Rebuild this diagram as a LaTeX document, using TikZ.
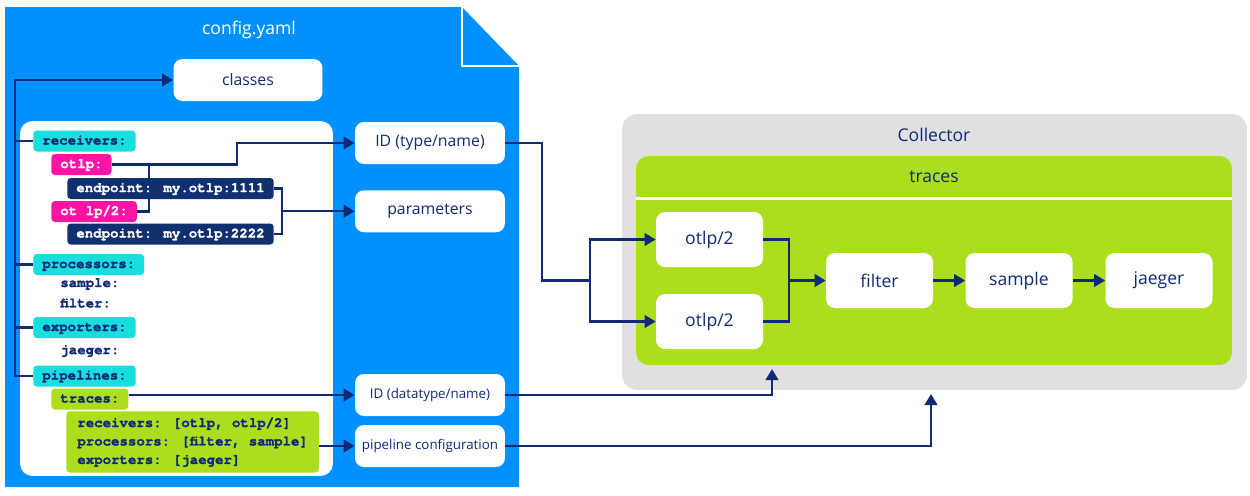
\documentclass[tikz,border=0pt]{standalone}
\usepackage{fontspec}
\setmainfont{Open Sans}
\newfontfamily\codefont{TeX Gyre Cursor}[BoldFeatures={FakeBold=1.6}]
\usetikzlibrary{arrows.meta}

\definecolor{docblue}{RGB}{0,145,255}
\definecolor{navy}{RGB}{16,42,118}
\definecolor{tagcyan}{RGB}{24,222,222}
\definecolor{tagpink}{RGB}{252,20,164}
\definecolor{tagnavy}{RGB}{16,48,112}
\definecolor{limegreen}{RGB}{172,222,30}
\definecolor{panelgray}{RGB}{224,224,224}

\tikzset{
  conn/.style={navy, line width=1.35pt},
  arr/.style={conn, -{Triangle[length=0.22cm,width=0.25cm]}},
  card/.style={fill=white, rounded corners=0.18cm, text=navy, minimum width=3cm, minimum height=0.84cm, inner sep=0pt, font=\fontsize{9}{11}\selectfont},
  smallcard/.style={card, font=\fontsize{7.6}{9}\selectfont},
  stage/.style={card, minimum width=2.14cm, minimum height=1.1cm, font=\fontsize{10}{12}\selectfont},
  yamltag/.style={anchor=west, rounded corners=0.07cm, minimum height=0.42cm, inner xsep=0.18cm, inner ysep=0pt, text height=0.2cm, text depth=0.06cm, text=navy, font=\codefont\bfseries\fontsize{8}{9.5}\selectfont},
  yamlkey/.style={yamltag, fill=tagcyan},
  yamlid/.style={yamltag, fill=tagpink, text=white},
  yamlep/.style={yamltag, fill=tagnavy, text=white},
  yamltext/.style={anchor=west, inner sep=0pt, text=navy, font=\codefont\bfseries\fontsize{8}{9.5}\selectfont},
  label/.style={text=navy, font=\fontsize{10}{12}\selectfont},
}

\begin{document}
\begin{tikzpicture}[x=0.02cm, y=0.02cm]
    \useasboundingbox (0,0) rectangle (1250,-495);
    % config file
    \fill [docblue] (5,-7) -- (462,-7) -- (519,-66) -- (519,-487) -- (5,-487) -- cycle;
    \draw [white, line width=1.2pt] (462,-7) -- (462,-66) -- (519,-66);
    \node [label, text=white] (title) at (249,-30) {config.yaml};
    \node [card, minimum width=2.98cm] (classes) at (248,-80) {classes};
    \node [fill=white, rounded corners=0.25cm, minimum width=6.26cm, minimum height=7.1cm] (panel) at (176.5,-298.5) {};
    \node [card] (idtype) at (430,-143) {ID (type/name)};
    \node [card] (params) at (430,-211.25) {parameters};
    \node [smallcard] (iddata) at (430,-395) {ID (datatype/name)};
    \node [smallcard] (pipecfg) at (430,-446) {pipeline configuration};
    \coordinate (spine) at (15,-80);
    \coordinate (idjoin) at (149,0);
    \coordinate (recbend) at (237,0);
    \coordinate (epjoin) at (282,0);
    % yaml lines
    \node [yamlkey] (receivers) at (33,-141) {receivers:};
    \node [yamlid] (otlpA) at (51,-164.5) {otlp:};
    \node [yamlid] (otlpB) at (51,-211.5) {ot lp/2:};
    \draw [conn] (otlpB.east) -| (otlpA.east -| idjoin);
    \draw [arr] (otlpA.east) -- (otlpA.east -| recbend) |- (idtype.west);
    \node [yamlep] (epA) at (67,-188.5) {endpoint: my.otlp:1111};
    \node [yamlep] (epB) at (67,-234) {endpoint: my.otlp:2222};
    \draw [conn] (epA.east) -- (epA.east -| epjoin) -- (epB.east -| epjoin) -- (epB.east);
    \draw [arr] (params.west -| epjoin) -- (params.west);
    \node [yamlkey] (processors) at (33,-264.5) {processors:};
    \node [yamltext] (procsample) at (60,-284) {sample:};
    \node [yamltext] (procfilter) at (60,-303) {filter:};
    \node [yamlkey] (exporters) at (33,-327.5) {exporters:};
    \node [yamltext] (expjaeger) at (60,-351) {jaeger:};
    \node [yamlkey] (pipelines) at (33,-376) {pipelines:};
    \node [yamltag, fill=limegreen] (tracekey) at (51,-399) {traces:};
    \node [anchor=west, fill=limegreen, rounded corners=0.07cm, align=left, inner xsep=0.22cm, minimum height=1.2cm, text=navy, font=\codefont\bfseries\fontsize{8}{10.5}\selectfont] (pipebody) at (66,-442) {receivers: [otlp, otlp/2]\\processors: [filter, sample]\\exporters: [jaeger]};
    \draw [arr] (pipelines.west) -| (spine) -- (classes.west);
    \draw [conn] (spine |- receivers.west) -- (receivers.west);
    \draw [conn] (spine |- processors.west) -- (processors.west);
    \draw [conn] (spine |- exporters.west) -- (exporters.west);
    \draw [arr] (tracekey.east |- iddata.west) -- (iddata.west);
    \draw [arr] (pipebody.east |- pipecfg.west) -- (pipecfg.west);
    % collector
    \node [fill=panelgray, rounded corners=0.3cm, minimum width=12.5cm, minimum height=5.52cm] (collector) at (934.5,-252) {};
    \node [label] (collectorlabel) at (934,-135) {Collector};
    \node [fill=limegreen, rounded corners=0.25cm, minimum width=11.92cm, minimum height=4.18cm] (tracesbox) at (934,-260.5) {};
    \node [label] (traceslabel) at (934,-177) {traces};
    \coordinate (divider) at (0,-198);
    \draw [white, line width=1.7pt] (tracesbox.west |- divider) -- (tracesbox.east |- divider);
    \node [stage] (otA) at (709.5,-239.5) {otlp/2};
    \node [stage] (otB) at (709.5,-321.5) {otlp/2};
    \node [stage] (filter) at (879.5,-280.5) {filter};
    \node [stage] (sample) at (1019,-280.5) {sample};
    \node [stage] (jaeger) at (1159,-280.5) {jaeger};
    \coordinate (bendA) at (542,0);
    \coordinate (split) at (590,-280.5);
    \coordinate (merge) at (789,-280.5);
    \coordinate (tracesin) at (772,-369);
    \coordinate (collin) at (931,-394);
    \draw [conn] (idtype.east) -- (idtype.east -| bendA) |- (split);
    \draw [arr] (split) |- (otA.west);
    \draw [arr] (split) |- (otB.west);
    \draw [conn] (otA.east) -| (merge);
    \draw [conn] (otB.east) -| (merge);
    \draw [arr] (merge) -- (filter.west);
    \draw [arr] (filter) -- (sample);
    \draw [arr] (sample) -- (jaeger);
    \draw [arr] (iddata.east) -| (tracesin);
    \draw [arr] (pipecfg.east) -| (collin);
\end{tikzpicture}
\end{document}
